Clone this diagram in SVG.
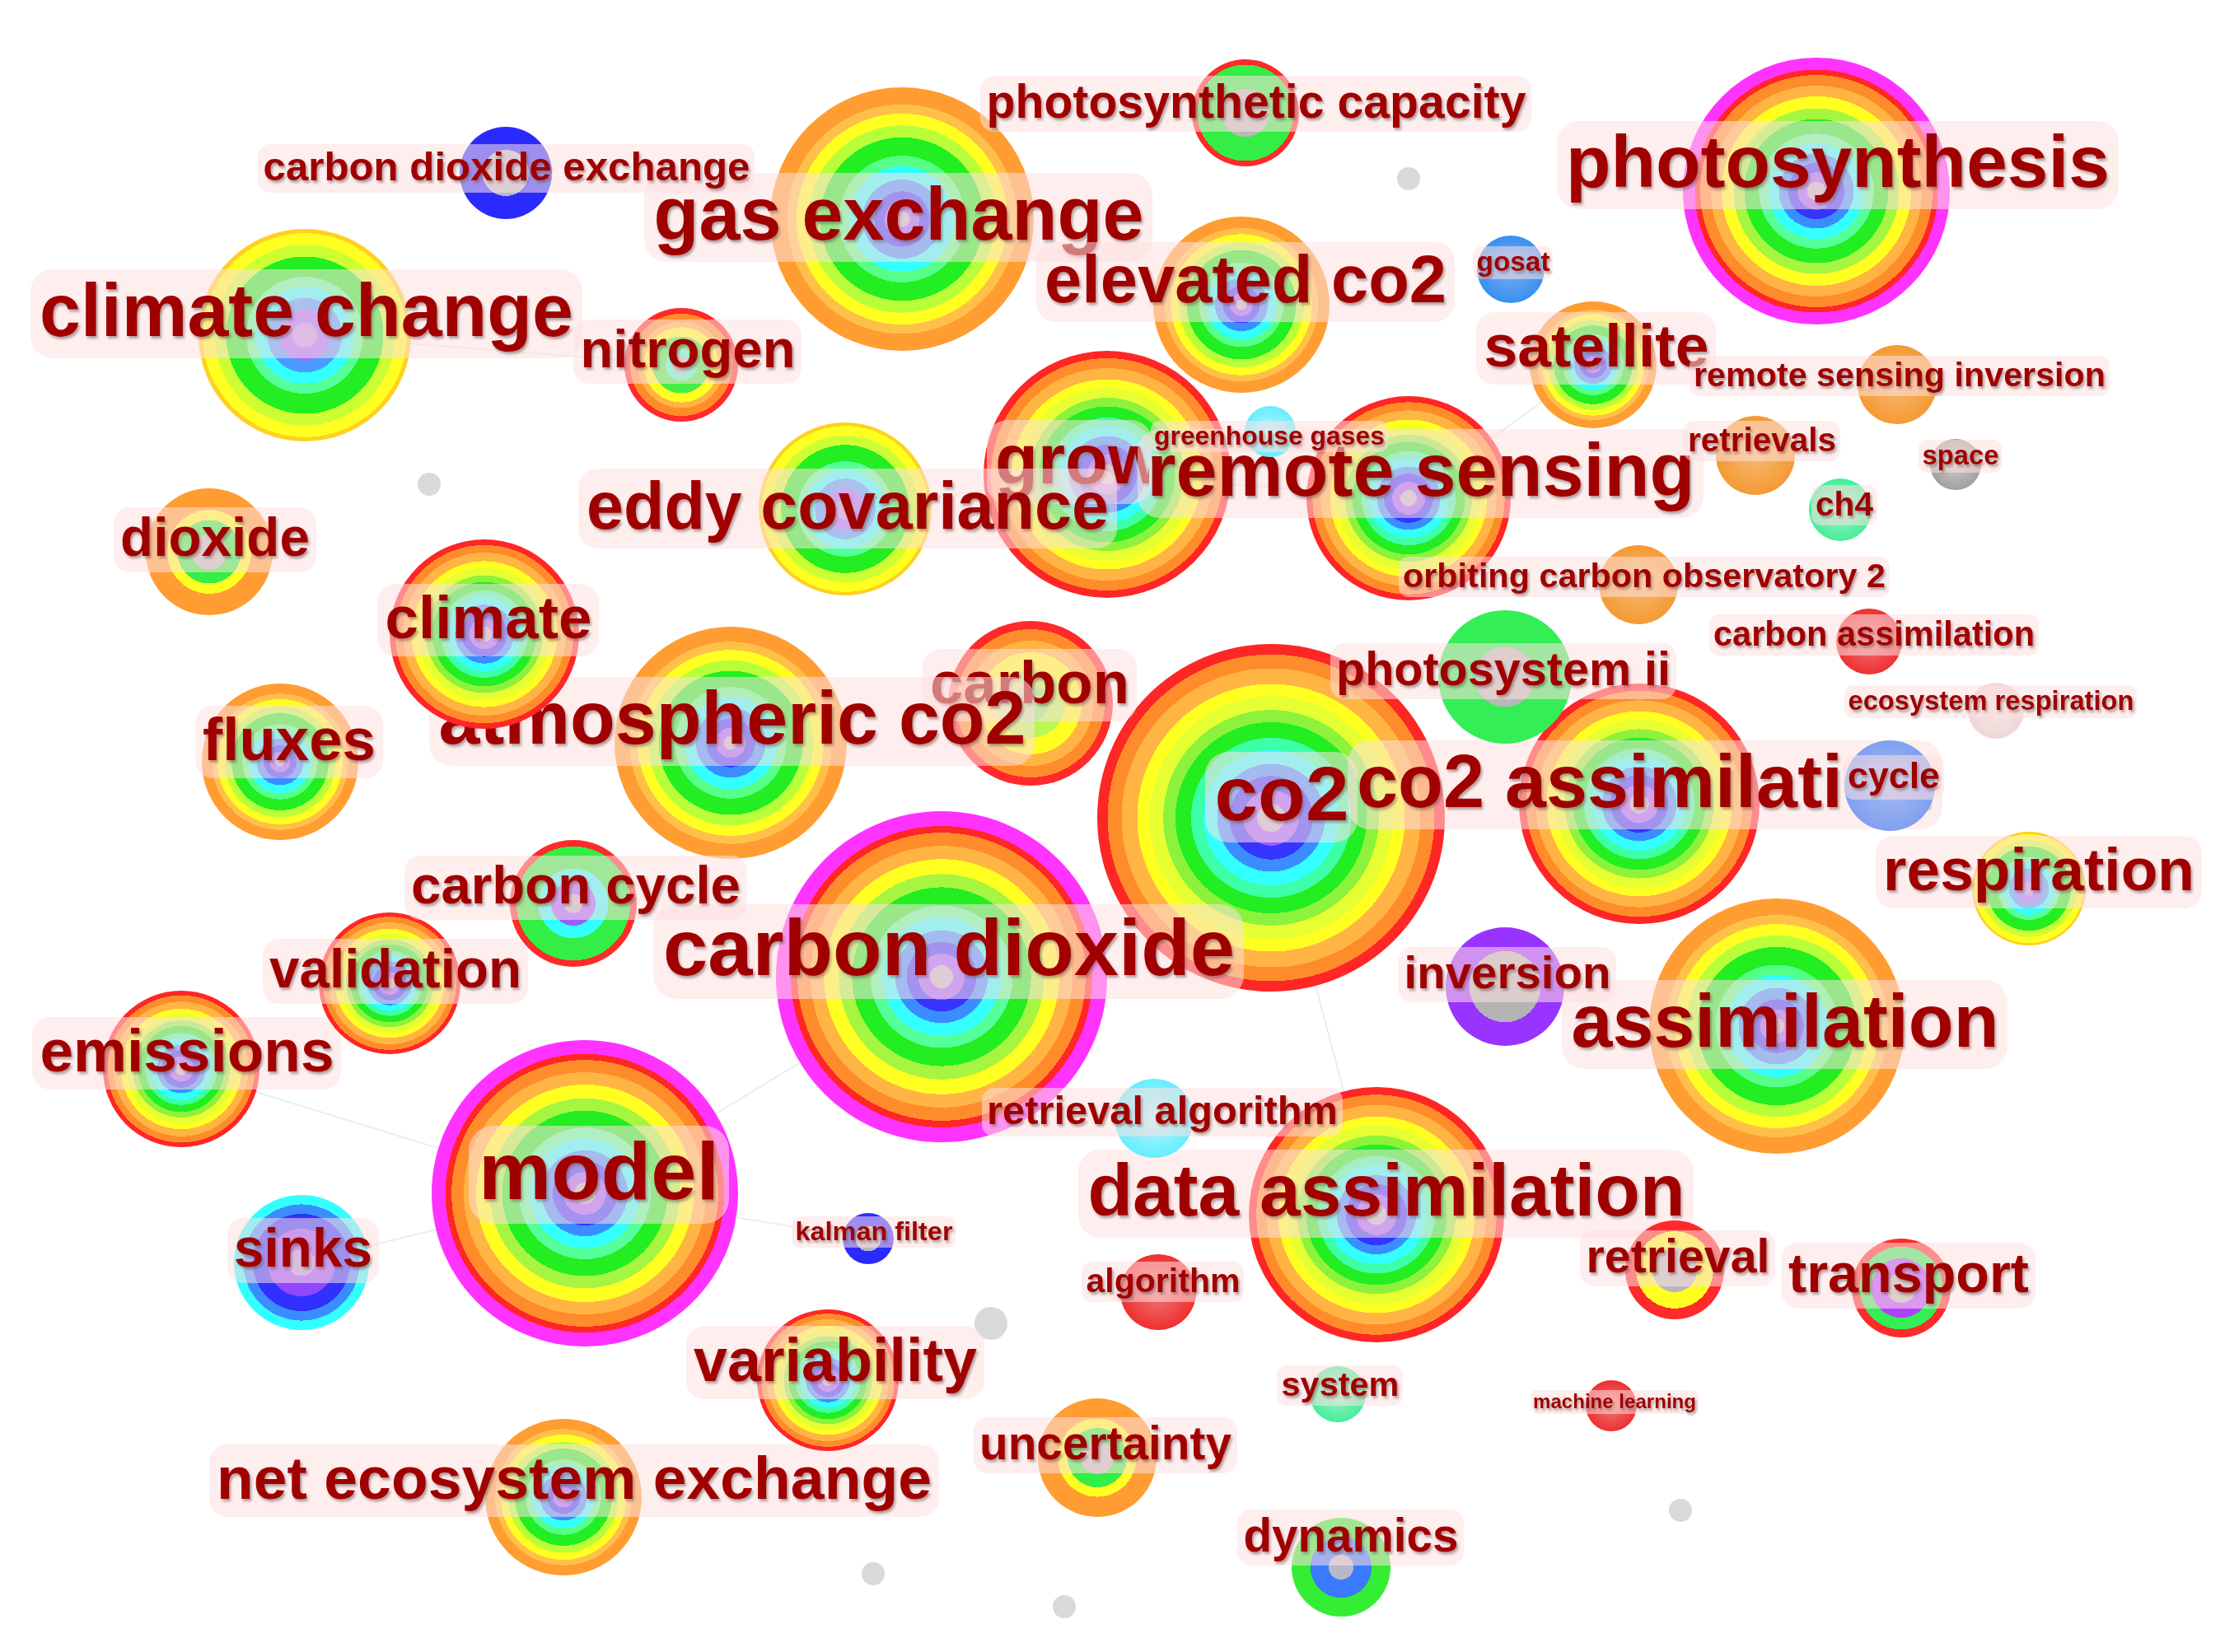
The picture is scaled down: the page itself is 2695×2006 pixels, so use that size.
<svg xmlns="http://www.w3.org/2000/svg" width="2695" height="2006" viewBox="0 0 2695 2006">
<style>
.t{font-family:"Liberation Sans",Arial,sans-serif;font-weight:bold;fill:#a00000;text-anchor:middle;filter:url(#sh)}
.ts{font-family:"Liberation Sans",Arial,sans-serif;font-weight:bold;fill:#a00000;text-anchor:start;filter:url(#sh)}
.lb{fill:#fde0e0;fill-opacity:0.55}
.dot{fill:#d9d9d9}
.cn{stroke:#dcdcdc;stroke-width:2;fill:none;opacity:0.5}
</style>
<defs>
<filter id="sh" x="-5%" y="-20%" width="110%" height="150%"><feDropShadow dx="2" dy="3" stdDeviation="1.6" flood-color="#6a5050" flood-opacity="0.5"/></filter>
<clipPath id="clipGrow"><rect x="1150" y="480" width="245" height="140"/></clipPath>
<radialGradient id="gR">
<stop offset="0" stop-color="#bdb4c8"/><stop offset=".08" stop-color="#bdb4c8"/>
<stop offset=".08" stop-color="#9b5cff"/><stop offset=".16" stop-color="#9b5cff"/>
<stop offset=".16" stop-color="#3535ff"/><stop offset=".24" stop-color="#3535ff"/>
<stop offset=".24" stop-color="#3b8dff"/><stop offset=".31" stop-color="#3b8dff"/>
<stop offset=".31" stop-color="#33ffff"/><stop offset=".39" stop-color="#33ffff"/>
<stop offset=".39" stop-color="#3dffa8"/><stop offset=".46" stop-color="#3dffa8"/>
<stop offset=".46" stop-color="#22ee22"/><stop offset=".55" stop-color="#22ee22"/>
<stop offset=".55" stop-color="#8cf23c"/><stop offset=".62" stop-color="#8cf23c"/>
<stop offset=".62" stop-color="#e6ff33"/><stop offset=".70" stop-color="#e6ff33"/>
<stop offset=".70" stop-color="#ffff22"/><stop offset=".77" stop-color="#ffff22"/>
<stop offset=".77" stop-color="#ffb444"/><stop offset=".86" stop-color="#ffb444"/>
<stop offset=".86" stop-color="#ff8c2a"/><stop offset=".94" stop-color="#ff8c2a"/>
<stop offset=".94" stop-color="#ff2626"/><stop offset="1" stop-color="#ff2626"/>
</radialGradient>
<radialGradient id="gM">
<stop offset="0" stop-color="#bdb4c8"/><stop offset=".07" stop-color="#bdb4c8"/>
<stop offset=".07" stop-color="#9b5cff"/><stop offset=".14" stop-color="#9b5cff"/>
<stop offset=".14" stop-color="#3535ff"/><stop offset=".21" stop-color="#3535ff"/>
<stop offset=".21" stop-color="#3b8dff"/><stop offset=".28" stop-color="#3b8dff"/>
<stop offset=".28" stop-color="#33ffff"/><stop offset=".36" stop-color="#33ffff"/>
<stop offset=".36" stop-color="#55ff99"/><stop offset=".43" stop-color="#55ff99"/>
<stop offset=".43" stop-color="#22ee22"/><stop offset=".54" stop-color="#22ee22"/>
<stop offset=".54" stop-color="#a6f540"/><stop offset=".62" stop-color="#a6f540"/>
<stop offset=".62" stop-color="#ffff22"/><stop offset=".71" stop-color="#ffff22"/>
<stop offset=".71" stop-color="#ffb444"/><stop offset=".79" stop-color="#ffb444"/>
<stop offset=".79" stop-color="#ff8c2a"/><stop offset=".87" stop-color="#ff8c2a"/>
<stop offset=".87" stop-color="#ff2626"/><stop offset=".91" stop-color="#ff2626"/>
<stop offset=".91" stop-color="#ff33ff"/><stop offset="1" stop-color="#ff33ff"/>
</radialGradient>
<radialGradient id="gO">
<stop offset="0" stop-color="#bdb4c8"/><stop offset=".06" stop-color="#bdb4c8"/>
<stop offset=".06" stop-color="#9b5cff"/><stop offset=".13" stop-color="#9b5cff"/>
<stop offset=".13" stop-color="#3535ff"/><stop offset=".21" stop-color="#3535ff"/>
<stop offset=".21" stop-color="#3b8dff"/><stop offset=".30" stop-color="#3b8dff"/>
<stop offset=".30" stop-color="#33ffff"/><stop offset=".40" stop-color="#33ffff"/>
<stop offset=".40" stop-color="#55ff88"/><stop offset=".48" stop-color="#55ff88"/>
<stop offset=".48" stop-color="#22ee22"/><stop offset=".62" stop-color="#22ee22"/>
<stop offset=".62" stop-color="#b8ff3a"/><stop offset=".71" stop-color="#b8ff3a"/>
<stop offset=".71" stop-color="#ffff22"/><stop offset=".80" stop-color="#ffff22"/>
<stop offset=".80" stop-color="#ffc04a"/><stop offset=".87" stop-color="#ffc04a"/>
<stop offset=".87" stop-color="#ff9d33"/><stop offset="1" stop-color="#ff9d33"/>
</radialGradient>
<radialGradient id="gY">
<stop offset="0" stop-color="#b890e8"/><stop offset=".12" stop-color="#b890e8"/>
<stop offset=".12" stop-color="#9b6cff"/><stop offset=".24" stop-color="#9b6cff"/>
<stop offset=".24" stop-color="#4a9aff"/><stop offset=".35" stop-color="#4a9aff"/>
<stop offset=".35" stop-color="#33ffff"/><stop offset=".46" stop-color="#33ffff"/>
<stop offset=".46" stop-color="#55ff99"/><stop offset=".55" stop-color="#55ff99"/>
<stop offset=".55" stop-color="#22ee22"/><stop offset=".74" stop-color="#22ee22"/>
<stop offset=".74" stop-color="#ccff33"/><stop offset=".85" stop-color="#ccff33"/>
<stop offset=".85" stop-color="#ffff22"/><stop offset=".96" stop-color="#ffff22"/>
<stop offset=".96" stop-color="#ffd020"/><stop offset="1" stop-color="#ffd020"/>
</radialGradient>
<radialGradient id="gRO">
<stop offset="0" stop-color="#b8b8b8"/><stop offset=".16" stop-color="#b8b8b8"/>
<stop offset=".16" stop-color="#44ffcc"/><stop offset=".28" stop-color="#44ffcc"/>
<stop offset=".28" stop-color="#44ee44"/><stop offset=".50" stop-color="#44ee44"/>
<stop offset=".50" stop-color="#ffff22"/><stop offset=".66" stop-color="#ffff22"/>
<stop offset=".66" stop-color="#ffb444"/><stop offset=".76" stop-color="#ffb444"/>
<stop offset=".76" stop-color="#ff8c2a"/><stop offset=".90" stop-color="#ff8c2a"/>
<stop offset=".90" stop-color="#ff2a2a"/><stop offset="1" stop-color="#ff2a2a"/>
</radialGradient>
<radialGradient id="gRO2">
<stop offset="0" stop-color="#88ee66"/><stop offset=".22" stop-color="#88ee66"/>
<stop offset=".22" stop-color="#b8f855"/><stop offset=".42" stop-color="#b8f855"/>
<stop offset=".42" stop-color="#ffff22"/><stop offset=".62" stop-color="#ffff22"/>
<stop offset=".62" stop-color="#ffb444"/><stop offset=".76" stop-color="#ffb444"/>
<stop offset=".76" stop-color="#ff8c2a"/><stop offset=".90" stop-color="#ff8c2a"/>
<stop offset=".90" stop-color="#ff2a2a"/><stop offset="1" stop-color="#ff2a2a"/>
</radialGradient>
<radialGradient id="gOs">
<stop offset="0" stop-color="#bbbbbb"/><stop offset=".28" stop-color="#bbbbbb"/>
<stop offset=".28" stop-color="#33ee44"/><stop offset=".50" stop-color="#33ee44"/>
<stop offset=".50" stop-color="#ffff22"/><stop offset=".66" stop-color="#ffff22"/>
<stop offset=".66" stop-color="#ff9d33"/><stop offset="1" stop-color="#ff9d33"/>
</radialGradient>
<radialGradient id="gC">
<stop offset="0" stop-color="#b090e0"/><stop offset=".2" stop-color="#b090e0"/>
<stop offset=".2" stop-color="#9048ff"/><stop offset=".5" stop-color="#9048ff"/>
<stop offset=".5" stop-color="#3030ff"/><stop offset=".72" stop-color="#3030ff"/>
<stop offset=".72" stop-color="#3b8dff"/><stop offset=".86" stop-color="#3b8dff"/>
<stop offset=".86" stop-color="#33ffff"/><stop offset="1" stop-color="#33ffff"/>
</radialGradient>
<radialGradient id="gRG">
<stop offset="0" stop-color="#b8b8b8"/><stop offset=".45" stop-color="#b8b8b8"/>
<stop offset=".45" stop-color="#33ee44"/><stop offset=".9" stop-color="#33ee44"/>
<stop offset=".9" stop-color="#ff2a2a"/><stop offset="1" stop-color="#ff2a2a"/>
</radialGradient>
<radialGradient id="gRGc">
<stop offset="0" stop-color="#b8b0c8"/><stop offset=".15" stop-color="#b8b0c8"/>
<stop offset=".15" stop-color="#9b5cff"/><stop offset=".35" stop-color="#9b5cff"/>
<stop offset=".35" stop-color="#33ffff"/><stop offset=".55" stop-color="#33ffff"/>
<stop offset=".55" stop-color="#33ee44"/><stop offset=".9" stop-color="#33ee44"/>
<stop offset=".9" stop-color="#ff2a2a"/><stop offset="1" stop-color="#ff2a2a"/>
</radialGradient>
<radialGradient id="gRY">
<stop offset="0" stop-color="#b8b8b8"/><stop offset=".45" stop-color="#b8b8b8"/>
<stop offset=".45" stop-color="#ffff22"/><stop offset=".78" stop-color="#ffff22"/>
<stop offset=".78" stop-color="#ff2a2a"/><stop offset="1" stop-color="#ff2a2a"/>
</radialGradient>
<radialGradient id="gRP">
<stop offset="0" stop-color="#b8b8b8"/><stop offset=".3" stop-color="#b8b8b8"/>
<stop offset=".3" stop-color="#b040ff"/><stop offset=".6" stop-color="#b040ff"/>
<stop offset=".6" stop-color="#33ee55"/><stop offset=".84" stop-color="#33ee55"/>
<stop offset=".84" stop-color="#ff2a2a"/><stop offset="1" stop-color="#ff2a2a"/>
</radialGradient>
<radialGradient id="gGB">
<stop offset="0" stop-color="#b8b8c8"/><stop offset=".25" stop-color="#b8b8c8"/>
<stop offset=".25" stop-color="#3a7aff"/><stop offset=".62" stop-color="#3a7aff"/>
<stop offset=".62" stop-color="#33ee33"/><stop offset="1" stop-color="#33ee33"/>
</radialGradient>
<radialGradient id="gPu">
<stop offset="0" stop-color="#b4b4b4"/><stop offset=".6" stop-color="#b4b4b4"/>
<stop offset=".6" stop-color="#9933ff"/><stop offset="1" stop-color="#9933ff"/>
</radialGradient>
<radialGradient id="gBl">
<stop offset="0" stop-color="#b8b8c8"/><stop offset=".5" stop-color="#b8b8c8"/>
<stop offset=".5" stop-color="#2a2aff"/><stop offset="1" stop-color="#2a2aff"/>
</radialGradient>
<radialGradient id="gGr">
<stop offset="0" stop-color="#b8b8b8"/><stop offset=".45" stop-color="#b8b8b8"/>
<stop offset=".45" stop-color="#33ee55"/><stop offset="1" stop-color="#33ee55"/>
</radialGradient>
<radialGradient id="sOr"><stop offset="0" stop-color="#f6b870"/><stop offset="1" stop-color="#f59a35"/></radialGradient>
<radialGradient id="sRd"><stop offset="0" stop-color="#f07878"/><stop offset="1" stop-color="#ee3030"/></radialGradient>
<radialGradient id="sCy"><stop offset="0" stop-color="#b8f4ff"/><stop offset="1" stop-color="#66eeff"/></radialGradient>
<radialGradient id="sMint"><stop offset="0" stop-color="#a8f0c8"/><stop offset="1" stop-color="#44ee99"/></radialGradient>
<radialGradient id="sGy"><stop offset="0" stop-color="#cccccc"/><stop offset="1" stop-color="#a0a0a0"/></radialGradient>
<radialGradient id="sBu"><stop offset="0" stop-color="#78aef0"/><stop offset="1" stop-color="#3a8ff0"/></radialGradient>
<radialGradient id="sLB"><stop offset="0" stop-color="#a8bcf0"/><stop offset="1" stop-color="#80a0f0"/></radialGradient>
<radialGradient id="sPk"><stop offset="0" stop-color="#f6e6e6"/><stop offset="1" stop-color="#f0d6d6"/></radialGradient>
</defs>
<rect width="2695" height="2006" fill="#ffffff"/>
<g id="connectors">
<line class="cn" x1="710" y1="1449" x2="1143" y2="1186"/>
<line class="cn" x1="710" y1="1449" x2="366" y2="1533"/>
<line class="cn" x1="710" y1="1449" x2="1054" y2="1504"/>
<line class="cn" x1="1543" y1="993" x2="1671" y2="1475"/>
<line class="cn" x1="1344" y1="576" x2="1710" y2="605"/>
<line class="cn" x1="1710" y1="605" x2="1934" y2="443"/>
<line class="cn" x1="370" y1="407" x2="827" y2="443"/>
<line class="cn" x1="1026" y1="618" x2="1344" y2="576"/>
<line class="cn" x1="220" y1="1298" x2="710" y2="1449"/>
</g>
<g id="dots">
<circle class="dot" cx="521" cy="588" r="14"/>
<circle class="dot" cx="1710" cy="217" r="14"/>
<circle class="dot" cx="1203" cy="1607" r="20"/>
<circle class="dot" cx="2040" cy="1834" r="14"/>
<circle class="dot" cx="1060" cy="1911" r="14"/>
<circle class="dot" cx="1292" cy="1951" r="14"/>
</g>
<g id="n-co2"><circle cx="1543" cy="993" r="211" fill="url(#gR)"/><rect class="lb" x="1463" y="913" width="185" height="110" rx="28"/><text class="t" x="1556" y="996" font-size="92" textLength="163" lengthAdjust="spacingAndGlyphs">co2</text></g>
<g id="n-carbon-dioxide"><circle cx="1143" cy="1186" r="201" fill="url(#gM)"/><rect class="lb" x="793" y="1098" width="717" height="115" rx="29"/><text class="t" x="1152" y="1184" font-size="96" textLength="694" lengthAdjust="spacingAndGlyphs">carbon dioxide</text></g>
<g id="n-model"><circle cx="710" cy="1449" r="186" fill="url(#gM)"/><rect class="lb" x="569" y="1367" width="316" height="119" rx="30"/><text class="t" x="727" y="1456" font-size="99" textLength="292" lengthAdjust="spacingAndGlyphs">model</text></g>
<g id="n-photosynthesis"><circle cx="2205" cy="232" r="162" fill="url(#gM)"/><rect class="lb" x="1890" y="147" width="682" height="107" rx="27"/><text class="t" x="2231" y="227" font-size="89" textLength="660" lengthAdjust="spacingAndGlyphs">photosynthesis</text></g>
<g id="n-gas-exchange"><circle cx="1095" cy="266" r="160" fill="url(#gO)"/><rect class="lb" x="782" y="210" width="617" height="108" rx="27"/><text class="t" x="1091" y="291" font-size="90" textLength="595" lengthAdjust="spacingAndGlyphs">gas exchange</text></g>
<g id="n-assimilation"><circle cx="2157" cy="1246" r="155" fill="url(#gO)"/><rect class="lb" x="1896" y="1190" width="541" height="108" rx="27"/><text class="t" x="2167" y="1271" font-size="90" textLength="519" lengthAdjust="spacingAndGlyphs">assimilation</text></g>
<g id="n-data-assimilation"><circle cx="1671" cy="1475" r="155" fill="url(#gR)"/><rect class="lb" x="1309" y="1396" width="747" height="107" rx="27"/><text class="t" x="1683" y="1476" font-size="89" textLength="725" lengthAdjust="spacingAndGlyphs">data assimilation</text></g>
<g id="n-growth"><circle cx="1344" cy="576" r="150" fill="url(#gR)"/><rect class="lb" x="1198" y="510" width="200" height="102" rx="25"/><text class="ts" x="1208" y="587" font-size="85" clip-path="url(#clipGrow)">growth</text></g>
<g id="n-co2-assimilation"><circle cx="1990" cy="976" r="146" fill="url(#gR)"/><rect class="lb" x="1636" y="899" width="722" height="108" rx="27"/><text class="ts" x="1647" y="980" font-size="90" textLength="700" lengthAdjust="spacingAndGlyphs">co2 assimilation</text></g>
<g id="n-carbon"><circle cx="1251" cy="854" r="100" fill="url(#gRO2)"/><rect class="lb" x="1120" y="788" width="260" height="88" rx="22"/><text class="t" x="1250" y="854" font-size="73" textLength="242" lengthAdjust="spacingAndGlyphs">carbon</text></g>
<g id="n-atmospheric-co2"><circle cx="887" cy="902" r="141" fill="url(#gO)"/><rect class="lb" x="521" y="822" width="735" height="108" rx="27"/><text class="t" x="889" y="903" font-size="90" textLength="713" lengthAdjust="spacingAndGlyphs">atmospheric co2</text></g>
<g id="n-climate-change"><circle cx="370" cy="407" r="129" fill="url(#gY)"/><rect class="lb" x="37" y="327" width="670" height="108" rx="27"/><text class="t" x="372" y="408" font-size="90" textLength="648" lengthAdjust="spacingAndGlyphs">climate change</text></g>
<g id="n-remote-sensing"><circle cx="1710" cy="605" r="124" fill="url(#gR)"/><rect class="lb" x="1381" y="521" width="687" height="108" rx="27"/><text class="t" x="1725" y="602" font-size="90" textLength="665" lengthAdjust="spacingAndGlyphs">remote sensing</text></g>
<g id="n-climate"><circle cx="588" cy="770" r="115" fill="url(#gR)"/><rect class="lb" x="458" y="709" width="269" height="88" rx="22"/><text class="t" x="593" y="775" font-size="73" textLength="251" lengthAdjust="spacingAndGlyphs">climate</text></g>
<g id="n-elevated-co2"><circle cx="1507" cy="370" r="107" fill="url(#gO)"/><rect class="lb" x="1258" y="294" width="508" height="97" rx="24"/><text class="t" x="1512" y="367" font-size="81" textLength="488" lengthAdjust="spacingAndGlyphs">elevated co2</text></g>
<g id="n-eddy-covariance"><circle cx="1026" cy="618" r="105" fill="url(#gY)"/><rect class="lb" x="702" y="569" width="654" height="97" rx="24"/><text class="t" x="1029" y="642" font-size="81" textLength="634" lengthAdjust="spacingAndGlyphs">eddy covariance</text></g>
<g id="n-fluxes"><circle cx="340" cy="925" r="95" fill="url(#gO)"/><rect class="lb" x="237" y="857" width="228" height="88" rx="22"/><text class="t" x="351" y="923" font-size="73" textLength="210" lengthAdjust="spacingAndGlyphs">fluxes</text></g>
<g id="n-emissions"><circle cx="220" cy="1298" r="95" fill="url(#gR)"/><rect class="lb" x="39" y="1235" width="375" height="88" rx="22"/><text class="t" x="227" y="1301" font-size="73" textLength="357" lengthAdjust="spacingAndGlyphs">emissions</text></g>
<g id="n-net-ecosystem-exchange"><circle cx="684" cy="1818" r="95" fill="url(#gO)"/><rect class="lb" x="254" y="1754" width="886" height="88" rx="22"/><text class="t" x="697" y="1820" font-size="73" textLength="868" lengthAdjust="spacingAndGlyphs">net ecosystem exchange</text></g>
<g id="n-validation"><circle cx="473" cy="1194" r="86" fill="url(#gR)"/><rect class="lb" x="319" y="1140" width="322" height="79" rx="20"/><text class="t" x="480" y="1199" font-size="66" textLength="306" lengthAdjust="spacingAndGlyphs">validation</text></g>
<g id="n-variability"><circle cx="1005" cy="1676" r="86" fill="url(#gR)"/><rect class="lb" x="833" y="1610" width="362" height="89" rx="22"/><text class="t" x="1014" y="1677" font-size="74" textLength="344" lengthAdjust="spacingAndGlyphs">variability</text></g>
<g id="n-sinks"><circle cx="366" cy="1533" r="82" fill="url(#gC)"/><rect class="lb" x="276" y="1479" width="184" height="79" rx="20"/><text class="t" x="368" y="1538" font-size="66" textLength="168" lengthAdjust="spacingAndGlyphs">sinks</text></g>
<g id="n-photosystem-ii"><circle cx="1827" cy="822" r="81" fill="url(#gGr)"/><rect class="lb" x="1615" y="781" width="420" height="68" rx="17"/><text class="t" x="1825" y="832" font-size="57" textLength="406" lengthAdjust="spacingAndGlyphs">photosystem ii</text></g>
<g id="n-dioxide"><circle cx="254" cy="670" r="77" fill="url(#gOs)"/><rect class="lb" x="138" y="616" width="246" height="79" rx="20"/><text class="t" x="261" y="675" font-size="66" textLength="230" lengthAdjust="spacingAndGlyphs">dioxide</text></g>
<g id="n-satellite"><circle cx="1934" cy="443" r="77" fill="url(#gO)"/><rect class="lb" x="1792" y="379" width="291" height="88" rx="22"/><text class="t" x="1938" y="445" font-size="73" textLength="273" lengthAdjust="spacingAndGlyphs">satellite</text></g>
<g id="n-carbon-cycle"><circle cx="696" cy="1097" r="77" fill="url(#gRGc)"/><rect class="lb" x="491" y="1039" width="416" height="78" rx="19"/><text class="t" x="699" y="1097" font-size="65" textLength="400" lengthAdjust="spacingAndGlyphs">carbon cycle</text></g>
<g id="n-inversion"><circle cx="1827" cy="1198" r="72" fill="url(#gPu)"/><rect class="lb" x="1697" y="1150" width="265" height="67" rx="17"/><text class="t" x="1830" y="1200" font-size="56" textLength="251" lengthAdjust="spacingAndGlyphs">inversion</text></g>
<g id="n-uncertainty"><circle cx="1332" cy="1770" r="72" fill="url(#gOs)"/><rect class="lb" x="1182" y="1721" width="320" height="68" rx="17"/><text class="t" x="1342" y="1772" font-size="57" textLength="306" lengthAdjust="spacingAndGlyphs">uncertainty</text></g>
<g id="n-nitrogen"><circle cx="827" cy="443" r="69" fill="url(#gRO)"/><rect class="lb" x="696" y="388" width="277" height="78" rx="19"/><text class="t" x="835" y="446" font-size="65" textLength="261" lengthAdjust="spacingAndGlyphs">nitrogen</text></g>
<g id="n-respiration"><circle cx="2463" cy="1079" r="69" fill="url(#gY)"/><rect class="lb" x="2277" y="1015" width="396" height="88" rx="22"/><text class="t" x="2475" y="1081" font-size="73" textLength="378" lengthAdjust="spacingAndGlyphs">respiration</text></g>
<g id="n-photosynthetic-capacity"><circle cx="1512" cy="137" r="65" fill="url(#gRG)"/><rect class="lb" x="1190" y="92" width="669" height="68" rx="17"/><text class="t" x="1525" y="143" font-size="57" textLength="655" lengthAdjust="spacingAndGlyphs">photosynthetic capacity</text></g>
<g id="n-retrieval"><circle cx="2033" cy="1542" r="60" fill="url(#gRY)"/><rect class="lb" x="1918" y="1494" width="237" height="68" rx="17"/><text class="t" x="2037" y="1545" font-size="57" textLength="223" lengthAdjust="spacingAndGlyphs">retrieval</text></g>
<g id="n-transport"><circle cx="2308" cy="1564" r="60" fill="url(#gRP)"/><rect class="lb" x="2163" y="1509" width="308" height="80" rx="20"/><text class="t" x="2317" y="1569" font-size="67" textLength="292" lengthAdjust="spacingAndGlyphs">transport</text></g>
<g id="n-dynamics"><circle cx="1628" cy="1903" r="60" fill="url(#gGB)"/><rect class="lb" x="1502" y="1833" width="275" height="68" rx="17"/><text class="t" x="1640" y="1884" font-size="57" textLength="261" lengthAdjust="spacingAndGlyphs">dynamics</text></g>
<g id="n-carbon-dioxide-exchange"><circle cx="614" cy="210" r="56" fill="url(#gBl)"/><rect class="lb" x="313" y="175" width="603" height="59" rx="15"/><text class="t" x="615" y="219" font-size="49" textLength="591" lengthAdjust="spacingAndGlyphs">carbon dioxide exchange</text></g>
<g id="n-cycle"><circle cx="2294" cy="954" r="55" fill="url(#sLB)"/><rect class="lb" x="2238" y="917" width="122" height="54" rx="13"/><text class="t" x="2299" y="957" font-size="45" textLength="112" lengthAdjust="spacingAndGlyphs">cycle</text></g>
<g id="n-remote-sensing-inversion"><circle cx="2303" cy="467" r="48" fill="url(#sOr)"/><rect class="lb" x="2051" y="432" width="510" height="49" rx="12"/><text class="t" x="2306" y="469" font-size="41" textLength="500" lengthAdjust="spacingAndGlyphs">remote sensing inversion</text></g>
<g id="n-retrievals"><circle cx="2131" cy="553" r="48" fill="url(#sOr)"/><rect class="lb" x="2044" y="511" width="190" height="49" rx="12"/><text class="t" x="2139" y="548" font-size="41" textLength="180" lengthAdjust="spacingAndGlyphs">retrievals</text></g>
<g id="n-retrieval-algorithm"><circle cx="1401" cy="1358" r="48" fill="url(#sCy)"/><rect class="lb" x="1192" y="1321" width="438" height="59" rx="15"/><text class="t" x="1411" y="1365" font-size="49" textLength="426" lengthAdjust="spacingAndGlyphs">retrieval algorithm</text></g>
<g id="n-orbiting-carbon-observatory-2"><circle cx="1989" cy="710" r="48" fill="url(#sOr)"/><rect class="lb" x="1698" y="676" width="596" height="49" rx="12"/><text class="t" x="1996" y="713" font-size="41" textLength="586" lengthAdjust="spacingAndGlyphs">orbiting carbon observatory 2</text></g>
<g id="n-algorithm"><circle cx="1406" cy="1569" r="46" fill="url(#sRd)"/><rect class="lb" x="1313" y="1532" width="197" height="49" rx="12"/><text class="t" x="1412" y="1569" font-size="41" textLength="187" lengthAdjust="spacingAndGlyphs">algorithm</text></g>
<g id="n-gosat"><circle cx="1834" cy="327" r="41" fill="url(#sBu)"/><rect class="lb" x="1788" y="299" width="97" height="40" rx="10"/><text class="t" x="1837" y="329" font-size="33" textLength="89" lengthAdjust="spacingAndGlyphs">gosat</text></g>
<g id="n-carbon-assimilation"><circle cx="2269" cy="779" r="40" fill="url(#sRd)"/><rect class="lb" x="2075" y="746" width="400" height="50" rx="12"/><text class="t" x="2275" y="784" font-size="42" textLength="390" lengthAdjust="spacingAndGlyphs">carbon assimilation</text></g>
<g id="n-ch4"><circle cx="2234" cy="619" r="38" fill="url(#sMint)"/><rect class="lb" x="2199" y="589" width="80" height="49" rx="12"/><text class="t" x="2239" y="626" font-size="41" textLength="70" lengthAdjust="spacingAndGlyphs">ch4</text></g>
<g id="n-ecosystem-respiration"><circle cx="2423" cy="863" r="34" fill="url(#sPk)"/><rect class="lb" x="2239" y="832" width="355" height="40" rx="10"/><text class="t" x="2417" y="862" font-size="33" textLength="347" lengthAdjust="spacingAndGlyphs">ecosystem respiration</text></g>
<g id="n-system"><circle cx="1624" cy="1693" r="34" fill="url(#sMint)"/><rect class="lb" x="1550" y="1658" width="153" height="49" rx="12"/><text class="t" x="1627" y="1695" font-size="41" textLength="143" lengthAdjust="spacingAndGlyphs">system</text></g>
<g id="n-greenhouse-gases"><circle cx="1542" cy="524" r="31" fill="url(#sCy)"/><rect class="lb" x="1397" y="511" width="288" height="38" rx="10"/><text class="t" x="1541" y="540" font-size="32" textLength="280" lengthAdjust="spacingAndGlyphs">greenhouse gases</text></g>
<g id="n-space"><circle cx="2374" cy="564" r="31" fill="url(#sGy)"/><rect class="lb" x="2329" y="534" width="101" height="40" rx="10"/><text class="t" x="2380" y="564" font-size="33" textLength="93" lengthAdjust="spacingAndGlyphs">space</text></g>
<g id="n-kalman-filter"><circle cx="1054" cy="1504" r="31" fill="url(#gBl)"/><rect class="lb" x="961" y="1477" width="199" height="38" rx="10"/><text class="t" x="1061" y="1506" font-size="32" textLength="191" lengthAdjust="spacingAndGlyphs">kalman filter</text></g>
<g id="n-machine-learning"><circle cx="1956" cy="1707" r="31" fill="url(#sRd)"/><rect class="lb" x="1858" y="1688" width="204" height="29" rx="8"/><text class="t" x="1960" y="1710" font-size="24" textLength="198" lengthAdjust="spacingAndGlyphs">machine learning</text></g>
</svg>
